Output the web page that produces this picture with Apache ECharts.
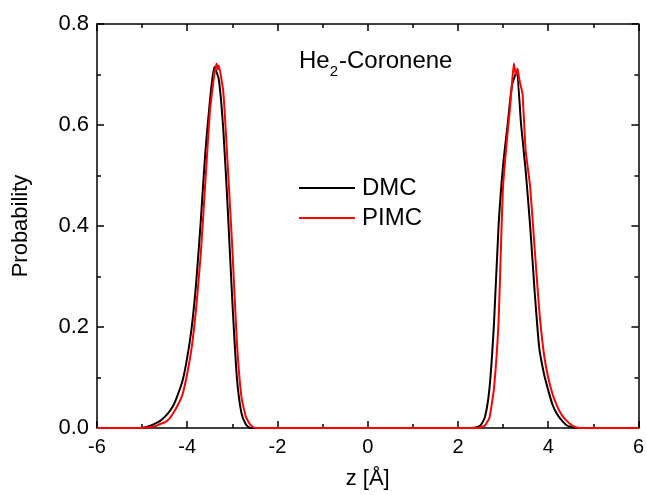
<!DOCTYPE html>
<html style="height: 100%">
<head>
	<meta charset="utf-8">
	<title>He2-Coronene</title>
</head>
<body style="height: 100%; margin: 0; background: #fff">
<div id="container" style="width: 647px; height: 495px"></div>

<script src="https://cdn.jsdelivr.net/npm/echarts@6/dist/echarts.min.js"></script>
<script type="text/javascript">
	// z positions [Angstrom] and probabilities
	var zDmc = [-6, -5.0, -4.9, -4.8, -4.7, -4.6, -4.5, -4.4, -4.3, -4.2, -4.1, -4.0, -3.9, -3.8, -3.7, -3.6, -3.5, -3.4, -3.3, -3.2, -3.1, -3.0, -2.9, -2.8, -2.7, -2.6,
		2.3, 2.4, 2.5, 2.6, 2.7, 2.8, 2.9, 3.0, 3.1, 3.2, 3.3, 3.4, 3.5, 3.6, 3.7, 3.8, 3.9, 4.0, 4.1, 4.2, 4.3, 4.4, 4.5, 4.6, 6];
	var dmc = [0, 0, 0.002, 0.005, 0.009, 0.014, 0.022, 0.032, 0.046, 0.068, 0.095, 0.14, 0.20, 0.29, 0.41, 0.545, 0.645, 0.715, 0.69, 0.59, 0.43, 0.25, 0.10, 0.03, 0.007, 0,
		0, 0.001, 0.005, 0.022, 0.08, 0.21, 0.40, 0.52, 0.60, 0.68, 0.705, 0.60, 0.51, 0.40, 0.27, 0.16, 0.11, 0.075, 0.045, 0.027, 0.015, 0.006, 0.002, 0, 0];

	var zPimc = [-6, -5.0, -4.9, -4.8, -4.7, -4.6, -4.5, -4.4, -4.3, -4.2, -4.1, -4.0, -3.9, -3.8, -3.7, -3.6, -3.5, -3.45, -3.4, -3.35, -3.32, -3.3, -3.25, -3.2, -3.15, -3.1, -3.0, -2.9, -2.8, -2.7, -2.6, -2.5,
		2.4, 2.5, 2.6, 2.7, 2.8, 2.9, 2.95, 3.0, 3.1, 3.15, 3.2, 3.24, 3.28, 3.32, 3.36, 3.43, 3.5, 3.6, 3.7, 3.8, 3.9, 4.0, 4.1, 4.2, 4.3, 4.4, 4.5, 4.6, 4.7, 6];
	var pimc = [0, 0, 0.001, 0.002, 0.004, 0.008, 0.011, 0.018, 0.031, 0.047, 0.068, 0.108, 0.16, 0.24, 0.345, 0.486, 0.625, 0.665, 0.70, 0.722, 0.71, 0.718, 0.695, 0.665, 0.595, 0.515, 0.355, 0.17, 0.062, 0.022, 0.006, 0,
		0, 0.001, 0.005, 0.021, 0.08, 0.21, 0.35, 0.48, 0.585, 0.63, 0.685, 0.722, 0.70, 0.712, 0.69, 0.662, 0.55, 0.478, 0.355, 0.235, 0.15, 0.10, 0.066, 0.043, 0.026, 0.015, 0.007, 0.002, 0, 0];

	var seriesNames = ['DMC', 'PIMC'];
	var seriesColors = ['#000000', '#ff0000'];

	function pairs(xs, ys) {
		return xs.map(function (x, i) { return [x, ys[i]]; });
	}

	var font = 'Liberation Sans, Arial, sans-serif';
	var dom = document.getElementById('container');
	var myChart = echarts.init(dom, null, { renderer: 'canvas' });

	var xCommon = {
		type: 'value', min: -6, max: 6, interval: 2,
		axisLine: { onZero: false, lineStyle: { color: '#000', width: 1.5 } },
		axisTick: { inside: true, length: 7, lineStyle: { color: '#000', width: 1.5 } },
		minorTick: { show: true, splitNumber: 2, length: 4, lineStyle: { color: '#000', width: 1.5 } },
		splitLine: { show: false }
	};
	var yCommon = {
		type: 'value', min: 0, max: 0.8, interval: 0.2,
		axisLine: { show: true, onZero: false, lineStyle: { color: '#000', width: 1.5 } },
		axisTick: { show: true, inside: true, length: 7, lineStyle: { color: '#000', width: 1.5 } },
		minorTick: { show: true, splitNumber: 2, length: 4, lineStyle: { color: '#000', width: 1.5 } },
		splitLine: { show: false }
	};

	var option = {
		animation: false,
		backgroundColor: '#fff',
		textStyle: { fontFamily: font },
		title: {
			text: '{a|He}{s|2}{a|-Coronene}',
			left: 299,
			top: 49,
			padding: 0,
			textStyle: {
				fontWeight: 'normal',
				rich: {
					a: { fontSize: 24, fontWeight: 'normal', color: '#000', fontFamily: font, verticalAlign: 'top', lineHeight: 24 },
					s: { fontSize: 15, fontWeight: 'normal', color: '#000', fontFamily: font, verticalAlign: 'top', lineHeight: 15, padding: [15, 1, 0, 0] }
				}
			}
		},
		legend: {
			orient: 'vertical',
			left: 299,
			top: 176,
			padding: 0,
			itemWidth: 56,
			itemHeight: 2,
			itemGap: 6,
			data: seriesNames.map(function (n) { return { name: n, icon: 'rect' }; }),
			textStyle: { fontSize: 24, color: '#000', fontFamily: font, padding: [0, 0, 0, 2] }
		},
		grid: { left: 97, right: 6, top: 24, bottom: 67 },
		xAxis: [
			Object.assign({}, xCommon, {
				position: 'bottom',
				name: 'z [Å]',
				nameLocation: 'middle',
				nameGap: 40,
				nameTextStyle: { fontSize: 22, color: '#000', fontFamily: font },
				axisLabel: { fontSize: 20, color: '#000', margin: 9, fontFamily: font }
			}),
			Object.assign({}, xCommon, { position: 'top', axisLabel: { show: false } })
		],
		yAxis: [
			Object.assign({}, yCommon, {
				position: 'left',
				name: 'Probability',
				nameLocation: 'middle',
				nameGap: 65,
				nameTextStyle: { fontSize: 22, color: '#000', fontFamily: font },
				axisLabel: {
					fontSize: 22, color: '#000', margin: 8, fontFamily: font,
					formatter: function (v) { return v.toFixed(1); }
				}
			}),
			Object.assign({}, yCommon, { position: 'right', axisLabel: { show: false } })
		],
		series: [
			{
				name: seriesNames[0],
				type: 'line',
				data: pairs(zDmc, dmc),
				symbol: 'none',
				smooth: 0.2,
				color: seriesColors[0],
				lineStyle: { width: 2, color: seriesColors[0] }
			},
			{
				name: seriesNames[1],
				type: 'line',
				data: pairs(zPimc, pimc),
				symbol: 'none',
				smooth: 0.15,
				color: seriesColors[1],
				lineStyle: { width: 2, color: seriesColors[1] }
			}
		]
	};

	myChart.setOption(option);
	window.addEventListener('resize', myChart.resize);
</script>
</body>
</html>
